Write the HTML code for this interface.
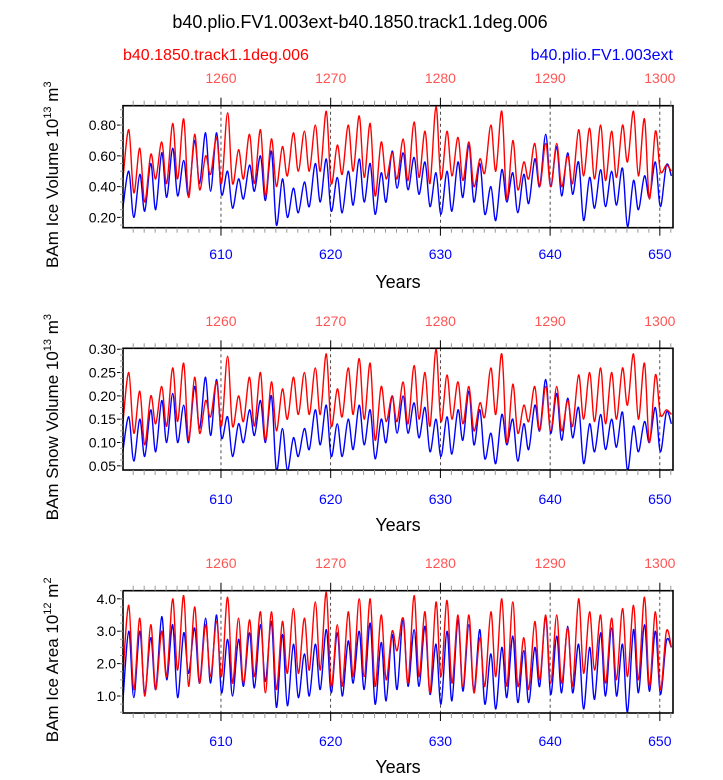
<!DOCTYPE html>
<html><head><meta charset="utf-8"><style>
body{margin:0;background:#fff;}
svg text{font-family:"Liberation Sans",sans-serif;}
</style></head><body>
<svg id="chart" width="723" height="775" xmlns="http://www.w3.org/2000/svg">
<text x="360" y="28" font-size="18" text-anchor="middle">b40.plio.FV1.003ext-b40.1850.track1.1deg.006</text>
<text x="123" y="60" font-size="16" fill="#f00">b40.1850.track1.1deg.006</text>
<text x="673" y="60" font-size="16" fill="#00f" text-anchor="end">b40.plio.FV1.003ext</text>
</svg>
<script>
const ns="http://www.w3.org/2000/svg";
const svg=document.getElementById('chart');
const years=[601,602,603,604,605,606,607,608,609,610,611,612,613,614,615,616,617,618,619,620,621,622,623,624,625,626,627,628,629,630,631,632,633,634,635,636,637,638,639,640,641,642,643,644,645,646,647,648,649,650,651];
const bottomTicks=[610,620,630,640,650];
const topTickLabels=["1260","1270","1280","1290","1300"];
// panel 1 ice volume
const iceRedPeak=[0.77,0.65,0.61,0.69,0.81,0.84,0.74,0.60,0.72,0.88,0.64,0.74,0.77,0.71,0.66,0.75,0.76,0.80,0.89,0.67,0.80,0.86,0.81,0.69,0.62,0.71,0.82,0.76,0.92,0.76,0.72,0.69,0.58,0.80,0.89,0.70,0.56,0.68,0.68,0.68,0.60,0.77,0.78,0.80,0.76,0.80,0.89,0.84,0.76,0.54,0.54];
const iceRedTrough=[0.44,0.36,0.30,0.45,0.42,0.45,0.33,0.38,0.48,0.42,0.42,0.45,0.42,0.34,0.40,0.47,0.50,0.50,0.50,0.42,0.48,0.50,0.46,0.34,0.45,0.45,0.44,0.46,0.42,0.45,0.47,0.44,0.40,0.49,0.50,0.32,0.38,0.45,0.40,0.40,0.40,0.42,0.47,0.45,0.44,0.46,0.56,0.47,0.32,0.50,0.50];
const iceBluePeak=[0.50,0.48,0.55,0.62,0.65,0.57,0.70,0.75,0.75,0.50,0.45,0.54,0.60,0.63,0.45,0.39,0.43,0.55,0.58,0.46,0.50,0.58,0.55,0.49,0.63,0.62,0.59,0.56,0.49,0.50,0.56,0.67,0.55,0.40,0.51,0.49,0.48,0.58,0.74,0.66,0.62,0.56,0.46,0.51,0.50,0.52,0.44,0.47,0.56,0.54,0.54];
const iceBlueTrough=[0.26,0.20,0.24,0.25,0.33,0.34,0.34,0.42,0.37,0.35,0.26,0.32,0.37,0.31,0.15,0.20,0.23,0.27,0.30,0.24,0.23,0.28,0.30,0.22,0.30,0.39,0.38,0.35,0.27,0.22,0.24,0.33,0.30,0.22,0.18,0.30,0.23,0.29,0.40,0.40,0.34,0.35,0.18,0.26,0.27,0.28,0.14,0.25,0.33,0.27,0.47];
const iceTicks=[0.20,0.40,0.60,0.80];
// panel 2 snow volume
const snowRedPeak=[0.25,0.21,0.20,0.22,0.26,0.27,0.24,0.19,0.23,0.285,0.20,0.24,0.25,0.23,0.215,0.24,0.25,0.26,0.29,0.215,0.26,0.28,0.27,0.22,0.20,0.23,0.265,0.25,0.30,0.245,0.23,0.22,0.185,0.26,0.29,0.225,0.18,0.22,0.22,0.22,0.19,0.245,0.25,0.26,0.25,0.26,0.29,0.27,0.245,0.17,0.17];
const snowRedTrough=[0.14,0.12,0.095,0.14,0.135,0.145,0.105,0.12,0.155,0.135,0.135,0.145,0.135,0.105,0.125,0.15,0.16,0.16,0.16,0.135,0.155,0.16,0.15,0.105,0.145,0.145,0.14,0.15,0.135,0.145,0.15,0.14,0.125,0.155,0.16,0.10,0.12,0.145,0.125,0.125,0.125,0.135,0.15,0.145,0.14,0.15,0.18,0.15,0.10,0.16,0.16];
const snowBluePeak=[0.155,0.15,0.17,0.19,0.205,0.18,0.22,0.24,0.235,0.155,0.14,0.17,0.19,0.20,0.13,0.11,0.13,0.17,0.18,0.14,0.15,0.18,0.17,0.15,0.20,0.20,0.185,0.175,0.15,0.155,0.17,0.21,0.17,0.12,0.16,0.15,0.14,0.18,0.235,0.205,0.195,0.175,0.14,0.16,0.15,0.165,0.135,0.145,0.175,0.165,0.165];
const snowBlueTrough=[0.08,0.06,0.07,0.08,0.10,0.10,0.10,0.13,0.115,0.11,0.07,0.10,0.115,0.10,0.04,0.04,0.07,0.085,0.095,0.07,0.07,0.085,0.095,0.065,0.10,0.12,0.12,0.11,0.08,0.07,0.075,0.105,0.095,0.065,0.055,0.095,0.06,0.085,0.125,0.12,0.105,0.11,0.055,0.08,0.085,0.09,0.04,0.08,0.10,0.08,0.14];
const snowTicks=[0.05,0.10,0.15,0.20,0.25,0.30];
// panel 3 ice area
const areaRedPeak=[3.8,3.4,3.2,3.0,4.0,4.1,3.75,3.2,3.3,4.05,3.4,3.35,3.6,3.6,3.3,3.7,3.4,3.9,4.2,3.2,3.6,4.0,4.0,3.5,3.0,3.4,4.1,3.6,3.9,3.95,3.5,3.5,2.8,3.6,4.0,3.9,2.8,3.3,3.5,3.5,3.1,4.0,3.6,3.5,3.4,3.7,3.8,4.05,3.6,3.0,2.8];
const areaRedTrough=[1.6,1.2,1.0,1.2,1.6,1.8,1.3,1.4,1.6,1.6,1.4,1.4,1.6,1.1,1.2,1.7,1.7,1.8,1.8,1.3,1.3,1.6,1.6,1.3,1.5,2.4,1.4,1.6,1.1,1.6,1.4,1.3,1.1,1.3,1.6,1.3,1.3,1.2,1.5,1.4,1.4,1.3,1.7,1.8,1.4,1.5,1.6,1.5,1.3,1.2,2.5];
const areaBluePeak=[3.0,3.0,2.8,3.45,3.2,2.95,3.1,3.4,3.5,2.75,2.75,2.95,3.2,3.3,2.9,2.6,2.3,2.6,3.05,2.95,2.7,3.0,3.25,2.65,2.9,3.4,3.05,3.15,2.6,3.0,3.35,3.2,3.05,2.3,2.5,2.85,2.4,2.5,3.45,2.85,3.15,2.6,2.5,2.95,3.1,2.6,3.05,3.2,3.0,2.7,2.7];
const areaBlueTrough=[0.8,0.95,1.1,1.2,1.5,0.95,1.7,1.4,1.4,1.1,1.0,1.3,1.25,1.45,0.65,0.7,0.95,1.0,1.2,1.1,1.0,1.4,1.2,0.75,0.85,1.2,1.3,1.3,1.05,0.75,0.85,1.15,1.15,0.75,0.6,0.95,0.8,0.8,1.3,1.05,1.1,1.1,0.6,0.9,1.0,1.0,0.5,1.1,1.15,1.05,2.5];
const areaTicks=[1.0,2.0,3.0,4.0];

const X0=123,X1=673,YR0=601.07,YR1=651.2;
const xs=v=>X0+(v-YR0)/(YR1-YR0)*(X1-X0);
function mk(tag,attrs,parent){const e=document.createElementNS(ns,tag);for(const k in attrs)e.setAttribute(k,attrs[k]);(parent||svg).appendChild(e);return e;}

function panel(name,top,bot,ymin,ymax,ticks,fmt,redP,redT,blueP,blueT,titleMain,sup,unit,topLblY,botLblY,yrsY){
  const ys=v=>bot-(v-ymin)/(ymax-ymin)*(bot-top);
  const g=mk('g',{});
  
  
  const cid='clip-'+name;
  const cp=mk('clipPath',{id:cid},g);mk('rect',{x:X0,y:top,width:X1-X0,height:bot-top},cp);
  bottomTicks.forEach(t=>{const l=mk('line',{x1:xs(t),x2:xs(t),y1:top,y2:bot,stroke:'#000','stroke-width':0.7,'stroke-dasharray':'3,3'},g);
    
    });
  function series(P,T,color,sname){
    const pts=[];
    years.forEach((y,i)=>{pts.push([xs(y+0.05),ys(T[i])]);if(i<years.length-1)pts.push([xs(y+0.6),ys(P[i])]);});
    let d='M'+pts[0][0].toFixed(1)+','+pts[0][1].toFixed(1);
    for(let i=0;i<pts.length-1;i++){
      const p0=pts[i-1]||pts[i],p1=pts[i],p2=pts[i+1],p3=pts[i+2]||p2;
      const c1=[p1[0]+(p2[0]-p0[0])/6,p1[1]+(p2[1]-p0[1])/6],c2=[p2[0]-(p3[0]-p1[0])/6,p2[1]-(p3[1]-p1[1])/6];
      d+=`C${c1[0].toFixed(1)},${c1[1].toFixed(1)} ${c2[0].toFixed(1)},${c2[1].toFixed(1)} ${p2[0].toFixed(1)},${p2[1].toFixed(1)}`;
    }
    const p=mk('path',{d:d,fill:'none',stroke:color,'stroke-width':1.4,'clip-path':`url(#${cid})`},g);
    
    
  }
  series(blueP,blueT,'#00f',name+'-blue-series');
  series(redP,redT,'#f00',name+'-red-series');
  const fr=mk('rect',{x:X0,y:top,width:X1-X0,height:bot-top,fill:'none',stroke:'#000','stroke-width':1.6},g);
  
  
  for(let y=602;y<=651;y++){
    const maj=y%10===0, len=maj?8:5, col=maj?'#000':'#999';
    mk('line',{x1:xs(y),x2:xs(y),y1:top,y2:top-len,stroke:col,'stroke-width':1},g);
    mk('line',{x1:xs(y),x2:xs(y),y1:bot,y2:bot+len,stroke:col,'stroke-width':1},g);
  }
  bottomTicks.forEach((t,i)=>{
    const b=mk('text',{x:xs(t),y:botLblY,'font-size':14,fill:'#00f','text-anchor':'middle'},g);b.textContent=String(t);
    
    
    const tt=mk('text',{x:xs(t),y:topLblY,'font-size':14,fill:'#f55','text-anchor':'middle'},g);tt.textContent=topTickLabels[i];
    
    
  });
  ticks.forEach(v=>{
    mk('line',{x1:X0,x2:X0-6,y1:ys(v),y2:ys(v),stroke:'#000','stroke-width':1},g);
    const t=mk('text',{x:X0-7,y:ys(v)+5,'font-size':14,'text-anchor':'end'},g);t.textContent=v.toFixed(fmt);
    
    
  });
  const step=(ticks[1]-ticks[0])/4;
  for(let v=ticks[0]-4*step;v<=ymax;v+=step){if(v<ymin)continue;mk('line',{x1:X0,x2:X0-3,y1:ys(v),y2:ys(v),stroke:'#999','stroke-width':1},g);}
  const yr=mk('text',{x:398,y:yrsY,'font-size':18,'text-anchor':'middle'},g);yr.textContent='Years';
  
  
  const cy=(top+bot)/2+8;
  const yt=mk('text',{x:0,y:0,'font-size':17,'text-anchor':'middle',transform:`translate(58,${cy}) rotate(-90)`},g);
  yt.innerHTML=`${titleMain} 10<tspan dy="-7" font-size="11">${sup}</tspan><tspan dy="7"> m</tspan><tspan dy="-7" font-size="11">${unit}</tspan>`;
  
  
}
panel('ice-volume',105.7,227.7,0.133,0.926,iceTicks,2,iceRedPeak,iceRedTrough,iceBluePeak,iceBlueTrough,'BAm Ice Volume','13','3',83,259,288);
panel('snow-volume',348.3,470,0.041,0.302,snowTicks,2,snowRedPeak,snowRedTrough,snowBluePeak,snowBlueTrough,'BAm Snow Volume','13','3',326,504,531);
panel('ice-area',590.7,713,0.476,4.25,areaTicks,1,areaRedPeak,areaRedTrough,areaBluePeak,areaBlueTrough,'BAm Ice Area','12','2',568,746,773);
</script>
</body></html>
